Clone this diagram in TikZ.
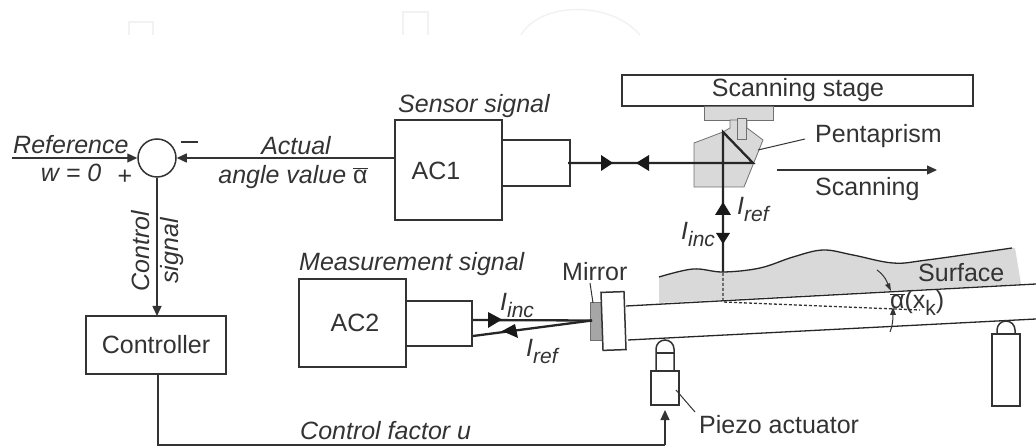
\documentclass[tikz,border=0pt]{standalone}
\usepackage{fontspec}
\setmainfont{Liberation Sans}
\usetikzlibrary{arrows.meta}
\definecolor{ink}{gray}{0.2}
\definecolor{fillg}{gray}{0.85}
\definecolor{wm}{gray}{0.95}
\tikzset{
  x=1pt,y=-1pt,
  box/.style={draw=ink,line width=1.5pt,fill=white,inner sep=0pt,outer sep=0pt},
  lbl/.style={text=ink,font=\fontsize{25}{28}\selectfont,inner sep=0pt},
  ilbl/.style={lbl,font=\fontsize{25}{28}\selectfont\itshape},
  wire/.style={draw=ink,line width=1.3pt},
  arr/.style={draw=ink,line width=1.3pt,-{Triangle[length=10pt,width=9pt]}},
  beam/.style={draw=black!85,line width=2.3pt},
  leader/.style={draw=ink,line width=1pt},
  outline/.style={draw=black!85,line width=1.3pt},
  prism/.style={draw=ink!70,fill=fillg,line width=.8pt},
  watermark/.style={draw=wm,line width=1.5pt},
}
\newcommand{\Isub}[1]{I\raisebox{-.28em}{\fontsize{21}{24}\selectfont #1}}
\begin{document}
\begin{tikzpicture}
\useasboundingbox (0,0) rectangle (1036,446);
% faint marks at the top
\draw[watermark] (129,35) -- (129,22) -- (153,22) -- (153,35);
\draw[watermark] (403,35) -- (403,12) -- (428,12) -- (428,35);
\draw[watermark] (521,35) .. controls (540,2) and (610,0) .. (640,35);
% surface
\fill[fillg] plot[smooth,tension=.6] coordinates {(659,277) (693,269) (723,272) (760,268) (793,257) (823,250) (853,255) (893,263) (927,260) (1012,248)} -- (1015,248) -- (1021,284) -- (659,303) -- cycle;
\draw[outline] plot[smooth,tension=.6] coordinates {(659,277) (693,269) (723,272) (760,268) (793,257) (823,250) (853,255) (893,263) (927,260) (1012,248)};
% beam
\draw[outline] (626,306) -- (1036,284);
\draw[outline] (628,340) -- (1036,319);
% mirror
\node[draw=ink!70,fill=gray!70,line width=.6pt,minimum width=12pt,minimum height=38pt,inner sep=0pt] (mirror) at (596,321.5) {};
\node[box,minimum width=23pt,minimum height=58pt,rotate=2] (mount) at (613.5,321) {};
% dashed
\draw[draw=ink,line width=1.3pt,densely dashed] (723,273) -- (723,302) -- (920,310);
% stage
\node[box,minimum width=351pt,minimum height=31pt] (stage) at (797.5,90.5) {};
\node[lbl] at (798,90.5) {Scanning stage};
\draw[prism] (704,106) rectangle (773,120);
\draw[prism] (694,143) -- (723,132) -- (730,128) -- (730,120) -- (747,120) -- (747,128) -- (763,140) -- (744,187) -- (694,187) -- cycle;
\draw[prism] (737,118) rectangle (746,139);
% AC1
\node[box,minimum width=107pt,minimum height=100pt] (ac1) at (448.5,170) {};
\node[box,minimum width=68pt,minimum height=46pt] (ac1b) at (536,163) {};
\node[lbl] at (436,171) {AC1};
\node[ilbl,anchor=west] at (398,106.5) {Sensor signal};
% optical path
\draw[beam] (723,272) -- (723,132) -- (753,163) -- (568,163);
\fill[black!90] (613,163) -- (601,155) -- (601,171) -- cycle;
\fill[black!90] (636,163) -- (649,155) -- (649,171) -- cycle;
\fill[black!90] (723,202) -- (715,215) -- (731,215) -- cycle;
\fill[black!90] (723,244) -- (716,233) -- (730,233) -- cycle;
% pentaprism label
\draw[leader] (758,150) -- (805,139);
\node[lbl,anchor=west] at (815,136.5) {Pentaprism};
\node[lbl,anchor=west] at (815,189.5) {Scanning};
\draw[arr] (777,170) -- (937,170);
\node[ilbl,anchor=west] at (737,210) {\Isub{ref}};
\node[ilbl,anchor=west] at (681,235) {\Isub{inc}};
% summing point
\node[draw=ink,line width=1.5pt,circle,minimum size=38pt,inner sep=0pt,fill=white] (sum) at (157,158) {};
\coordinate (refstart) at (12,158);
\draw[arr] (refstart) -- (sum.west);
\draw[arr] (ac1.west |- sum) -- (sum.east);
\node[ilbl,anchor=west] at (13,145) {Reference};
\node[ilbl] at (71,173) {w = 0};
\node[lbl] at (125,177) {+};
\draw[wire] (181,142) -- (198,142);
\node[ilbl] at (296,146) {Actual};
\node[ilbl] at (293,177) {angle value {\upshape$\overline{\mbox{α}}$}};
% controller
\node[box,minimum width=140pt,minimum height=58pt] (ctrl) at (156,345) {};
\node[lbl] at (156,345) {Controller};
\draw[arr] (sum.south) -- (sum.south |- ctrl.north);
\node[ilbl,rotate=90] at (141,251) {Control};
\node[ilbl,rotate=90] at (172,251) {signal};
% AC2
\node[box,minimum width=107pt,minimum height=88pt] (ac2) at (352.5,323) {};
\node[box,minimum width=66pt,minimum height=45pt] (ac2b) at (439,323.5) {};
\node[lbl] at (355,323) {AC2};
\node[ilbl,anchor=west] at (299,264) {Measurement signal};
\node[lbl,anchor=west] at (562,272) {Mirror};
\draw[leader] (590,283) -- (593,303);
\coordinate (mp) at (592,320.5);
\draw[beam] (473,320) -- (mp);
\draw[beam] (473,336) -- (mp);
\fill[black!90] (502,319.5) -- (488,312) -- (488,328) -- cycle;
\fill[black!90] (502,331) -- (515,324) -- (518,338) -- cycle;
\node[ilbl,anchor=west] at (500,306) {\Isub{inc}};
\node[ilbl,anchor=west] at (526,352) {\Isub{ref}};
% supports
\draw[box] (656,371) -- (656,349) arc[start angle=180,end angle=360,radius=9] -- (674,371);
\draw[wire] (656,353) -- (674,353);
\node[box,minimum width=28pt,minimum height=34pt] (piezo) at (665,388) {};
\draw[box] (997,334) -- (997,330) arc[start angle=180,end angle=360,radius=9] -- (1015,334);
\node[box,minimum width=28pt,minimum height=72pt] (right) at (1006,370) {};
% labels on the beam
\node[lbl,anchor=west] at (918,273) {Surface};
\draw[leader] (877,270) .. controls (884,275) and (888,282) .. (889,288);
\node[lbl,anchor=west] at (890,303) {{\upshape$\overline{\mbox{α}}$}(x\raisebox{-.25em}{\fontsize{21}{24}\selectfont k})};
\draw[leader] (890,332) .. controls (893,325) and (893,318) .. (893,313);
\fill[ink] (893,307) -- (890,315) -- (896,315) -- cycle;
\fill[ink] (891,291) -- (885,285) -- (890,283) -- cycle;
% piezo text
\draw[leader] (676,390) -- (695,412);
\node[lbl,anchor=west] at (699,425) {Piezo actuator};
% control factor
\coordinate (cfl) at (158,445);
\coordinate (cfr) at (665,445);
\coordinate (cft) at (665,410);
\draw[wire] (cfl |- ctrl.south) -- (cfl) -- (cfr);
\draw[arr] (cfr) -- (cft);
\node[ilbl,anchor=west] at (300,431) {Control factor u};
\end{tikzpicture}
\end{document}
